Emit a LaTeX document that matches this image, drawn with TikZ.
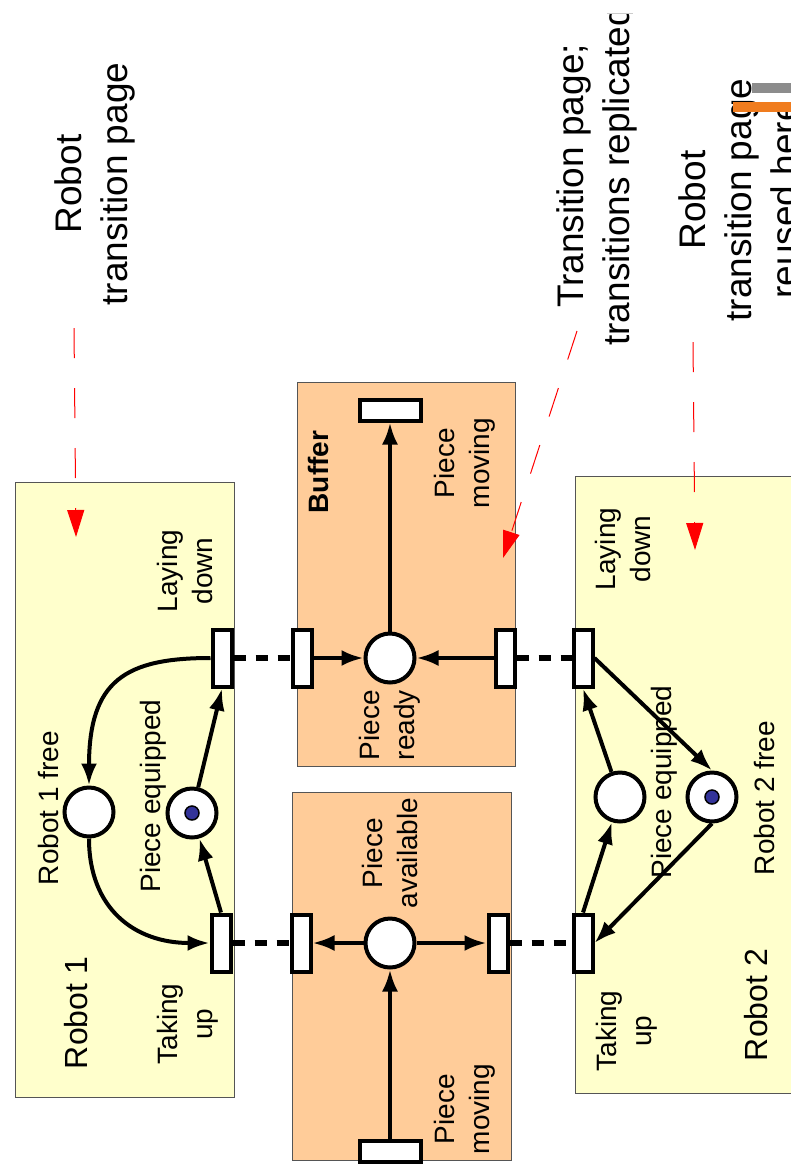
\documentclass[tikz,border=0pt]{standalone}
\usepackage{fontspec}
\setmainfont{Liberation Sans}
\usepackage{tikz}
\usetikzlibrary{arrows.meta}

\definecolor{robotyellow}{HTML}{FFFFCC}
\definecolor{bufferorange}{HTML}{FFCC99}
\definecolor{boxline}{HTML}{555555}
\definecolor{tokenblue}{HTML}{333399}
\definecolor{barorange}{HTML}{F07C1E}
\definecolor{bargray}{HTML}{8C8C8C}

\tikzset{
  place/.style={circle, draw, fill=white, line width=4pt, minimum size=49pt, inner sep=0pt},
  trans/.style={rectangle, draw, fill=white, line width=4pt, minimum width=19pt, minimum height=57pt, inner sep=0pt},
  htrans/.style={trans, minimum width=61pt, minimum height=21pt},
  token/.style={circle, draw, fill=tokenblue, line width=1.5pt, minimum size=14pt, inner sep=0pt},
  lbl/.style={rotate=90, align=center, inner sep=0pt, font=\fontsize{28}{35}\selectfont},
  note/.style={rotate=90, align=center, inner sep=0pt, font=\fontsize{37}{46}\selectfont},
  box/.style={draw=boxline, line width=1pt},
  arc/.style={line width=4pt, -{Latex[length=22pt,width=16pt]}},
  link/.style={line width=6pt, dash pattern=on 12pt off 10pt},
  hint/.style={red, line width=1pt, dash pattern=on 30pt off 30pt, -{Triangle[length=27pt,width=17pt]}}
}

\begin{document}
\begin{tikzpicture}[x=1pt,y=-1pt]
  \useasboundingbox[fill=white] (0,0) rectangle (791,1171);
  \clip (0,13) rectangle (791,1171);

  % pages
  \draw[box,fill=robotyellow]   (15,482)  rectangle (234,1097);
  \draw[box,fill=bufferorange]  (297,382) rectangle (515,766);
  \draw[box,fill=bufferorange]  (292,792) rectangle (511,1160);
  \draw[box,fill=robotyellow]   (575,476) rectangle (820,1093);

  % places and transitions
  \node[place] (free1) at (89,812) {};
  \node[place] (eq1)   at (192,813) {};
  \node[token] at (eq1) {};
  \node[trans] (ld1) at (222,658) {};
  \node[trans] (tu1) at (221,943) {};

  \node[trans]  (tb1)   at (302,658) {};
  \node[place]  (ready) at (390,658) {};
  \node[trans]  (tb2)   at (505,658) {};
  \node[htrans] (tout)  at (390,410) {};

  \node[trans]  (ta1)   at (301,943) {};
  \node[place]  (avail) at (390,943) {};
  \node[trans]  (ta2)   at (498,943) {};
  \node[htrans] (tin)   at (390,1151) {};

  \node[trans] (ld2)   at (583,658) {};
  \node[trans] (tu2)   at (583,943) {};
  \node[place] (eq2)   at (620,797) {};
  \node[place] (free2) at (712,797) {};
  \node[token] at (free2) {};

  % labels
  \node[lbl] (lfree1) at (48,808)  {Robot 1 free};
  \node[lbl] (leq1)   at (153,796) {Piece equipped};
  \node[lbl] (lld1)   at (185,571) {Laying\\down};
  \node[lbl] (ltu1)   at (188,1024) {Taking\\up};
  \node[lbl,font=\fontsize{32}{38}\selectfont] (lrob1) at (76,1013) {Robot 1};
  \node[lbl,font=\fontsize{28}{35}\selectfont\bfseries] (lbuf) at (318,472) {Buffer};
  \node[lbl] (lmov1)  at (465,463) {Piece\\moving};
  \node[lbl] (lready) at (390,725) {Piece\\ready};
  \node[lbl] (lavail) at (390,853) {Piece\\available};
  \node[lbl] (lmov2)  at (465,1109) {Piece\\moving};
  \node[lbl] (lld2)   at (623,549) {Laying\\down};
  \node[lbl] (leq2)   at (664,782) {Piece equipped};
  \node[lbl] (lfree2) at (764,798) {Robot 2 free};
  \node[lbl] (ltu2)   at (627,1031) {Taking\\up};
  \node[lbl,font=\fontsize{32}{38}\selectfont] (lrob2) at (756,1005) {Robot 2};

  \node[note] (n1) at (95,184)  {Robot\\transition page};
  \node[note] (n2) at (597,176) {Transition page;\\transitions replicated};
  \node[note] (n3) at (738,200) {Robot\\transition page\\reused here};

  % arcs
  \draw[arc] (ld1.west) .. controls +(-85,0) and +(0,-105) .. (free1.north);
  \draw[arc] (free1.south) .. controls +(0,70) and +(-75,0) .. (tu1.west);
  \path[arc]
    (tu1.north) edge (eq1)
    (eq1)       edge (ld1.south)
    (tb1)       edge (ready)
    (tb2)       edge (ready)
    (ready)     edge (tout)
    (tin)       edge (avail)
    (avail)     edge (ta1)
            edge (ta2)
    (tu2.north) edge (eq2)
    (eq2)       edge (ld2.south)
    (ld2.east)  edge (free2.north)
    (free2.south) edge (tu2.east);
  \path[link]
    (ld1) edge (tb1)
    (tb2) edge (ld2)
    (tu1) edge (ta1)
    (ta2) edge (tu2);

  % page hints
  \coordinate (h1a) at (74,328);  \coordinate (h1b) at (76,537);
  \coordinate (h2a) at (577,331); \coordinate (h2b) at (503,558);
  \coordinate (h3a) at (693,342); \coordinate (h3b) at (695,550);
  \draw[hint] (h1a) -- (h1b);
  \draw[hint] (h2a) -- (h2b);
  \draw[hint] (h3a) -- (h3b);

  \draw[black!20, line width=1pt] (607,13.5) -- (633,13.5);
  \fill[bargray]   (752,83)  rectangle (791,93);
  \fill[barorange] (733,102) rectangle (791,112);
\end{tikzpicture}
\end{document}
